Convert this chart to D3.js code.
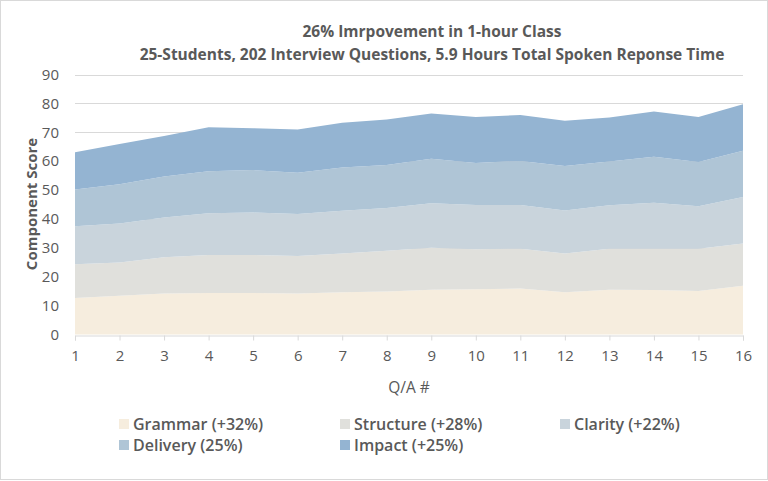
<!DOCTYPE html>
<html>
<head>
<meta charset="utf-8">
<script src="https://cdn.jsdelivr.net/npm/d3@7"></script>
<style>
  body { margin: 0; background: #fff; }
  text { font-family: "Open Sans", "Noto Sans", sans-serif; }
</style>
</head>
<body>
<div id="chart"></div>
<script>
var width = 768, height = 481;

// Q/A number on the x axis
var questions = [1, 2, 3, 4, 5, 6, 7, 8, 9, 10, 11, 12, 13, 14, 15, 16];

// component scores, stacked bottom to top
var grammar   = [12.6, 13.4, 14.2, 14.4, 14.4, 14.2, 14.6, 14.9, 15.5, 15.7, 15.9, 14.6, 15.5, 15.4, 15.1, 16.9];
var structure = [11.7, 11.5, 12.5, 13.1, 13.1, 13.0, 13.4, 14.1, 14.5, 13.8, 13.8, 13.4, 14.2, 14.3, 14.6, 14.6];
var clarity   = [13.2, 13.5, 13.8, 14.5, 14.7, 14.5, 14.8, 14.8, 15.4, 15.3, 15.1, 14.9, 15.0, 15.9, 14.7, 16.1];
var delivery  = [12.7, 13.6, 14.2, 14.5, 14.7, 14.3, 15.0, 14.9, 15.4, 14.6, 15.3, 15.4, 15.2, 15.9, 15.3, 16.0];
var impact    = [12.9, 13.9, 14.0, 15.2, 14.5, 15.0, 15.5, 15.7, 15.7, 15.9, 15.9, 15.7, 15.2, 15.7, 15.6, 16.1];

var seriesNames = ["Grammar (+32%)", "Structure (+28%)", "Clarity (+22%)", "Delivery (25%)", "Impact (+25%)"];
var yTicks = [0, 10, 20, 30, 40, 50, 60, 70, 80, 90];

var colors = ["#f6edde", "#e0e0dc", "#c9d4dc", "#afc5d6", "#94b4d2"];
var keys = ["grammar", "structure", "clarity", "delivery", "impact"];
var cols = [grammar, structure, clarity, delivery, impact];

var rows = questions.map(function(q, i) {
  var r = { q: q };
  keys.forEach(function(k, j) { r[k] = cols[j][i]; });
  return r;
});

var svg = d3.select("#chart").append("svg")
    .attr("width", width)
    .attr("height", height);

// outer frame
svg.append("rect")
    .attr("x", 0.5).attr("y", 0.5)
    .attr("width", width - 1).attr("height", height - 2)
    .attr("fill", "#fff")
    .attr("stroke", "#d9d9d9");

var x = d3.scaleLinear().domain([1, 16]).range([75, 743]);
var y = d3.scaleLinear().domain([0, 90]).range([334.5, 74.5]);

// gridlines
svg.append("g")
  .selectAll("line")
  .data(yTicks.slice(1))
  .join("line")
    .attr("x1", x(1)).attr("x2", x(16))
    .attr("y1", function(d) { return Math.round(y(d)) + 0.5; })
    .attr("y2", function(d) { return Math.round(y(d)) + 0.5; })
    .attr("stroke", "#d9d9d9")
    .attr("stroke-width", 1);

var stack = d3.stack().keys(keys);
var layers = stack(rows);

var area = d3.area()
    .x(function(d) { return x(d.data.q); })
    .y0(function(d) { return y(d[0]); })
    .y1(function(d) { return y(d[1]); });

svg.append("g")
  .selectAll("path")
  .data(layers)
  .join("path")
    .attr("d", area)
    .attr("fill", function(d, i) { return colors[i]; });

// x axis
var xAxis = d3.axisBottom(x)
    .tickValues(questions)
    .tickSize(5)
    .tickPadding(10)
    .tickFormat(d3.format("d"));

var gx = svg.append("g")
    .attr("transform", "translate(0," + (Math.round(y(0)) + 0.5) + ")")
    .call(xAxis);
gx.selectAll("path, line").attr("stroke", "#d9d9d9");
gx.selectAll("text")
    .attr("fill", "#595959")
    .style("font-size", "15px");

// y axis labels only
var gy = svg.append("g")
    .attr("transform", "translate(" + x(1) + ",0)")
    .call(d3.axisLeft(y).tickValues(yTicks).tickSize(0).tickPadding(16));
gy.select(".domain").remove();
gy.selectAll("text")
    .attr("fill", "#595959")
    .style("font-size", "15px");

// titles
svg.append("text")
    .attr("x", 432).attr("y", 37)
    .attr("text-anchor", "middle")
    .attr("fill", "#595959")
    .style("font-size", "15.5px")
    .style("font-weight", "bold")
    .text("26% Imrpovement in  1-hour Class");

svg.append("text")
    .attr("x", 432).attr("y", 60)
    .attr("text-anchor", "middle")
    .attr("fill", "#595959")
    .style("font-size", "15.5px")
    .style("font-weight", "bold")
    .text("25-Students, 202 Interview Questions, 5.9 Hours Total Spoken Reponse Time");

svg.append("text")
    .attr("transform", "translate(37,204) rotate(-90)")
    .attr("text-anchor", "middle")
    .attr("fill", "#595959")
    .style("font-size", "15px")
    .style("font-weight", "bold")
    .text("Component Score");

svg.append("text")
    .attr("x", 409).attr("y", 393)
    .attr("text-anchor", "middle")
    .attr("fill", "#595959")
    .style("font-size", "15.5px")
    .text("Q/A #");

// legend
var legendPos = [[119, 424], [340, 424], [560, 424], [119, 445], [340, 445]];
var lg = svg.append("g")
  .selectAll("g")
  .data(seriesNames)
  .join("g")
    .attr("transform", function(d, i) { return "translate(" + legendPos[i][0] + "," + legendPos[i][1] + ")"; });

lg.append("rect")
    .attr("x", 0).attr("y", -5)
    .attr("width", 10).attr("height", 10)
    .attr("fill", function(d, i) { return colors[i]; });

lg.append("text")
    .attr("x", 14).attr("y", 5.5)
    .attr("fill", "#595959")
    .style("font-size", "16px")
    .style("font-weight", "600")
    .text(function(d) { return d; });
</script>
</body>
</html>
